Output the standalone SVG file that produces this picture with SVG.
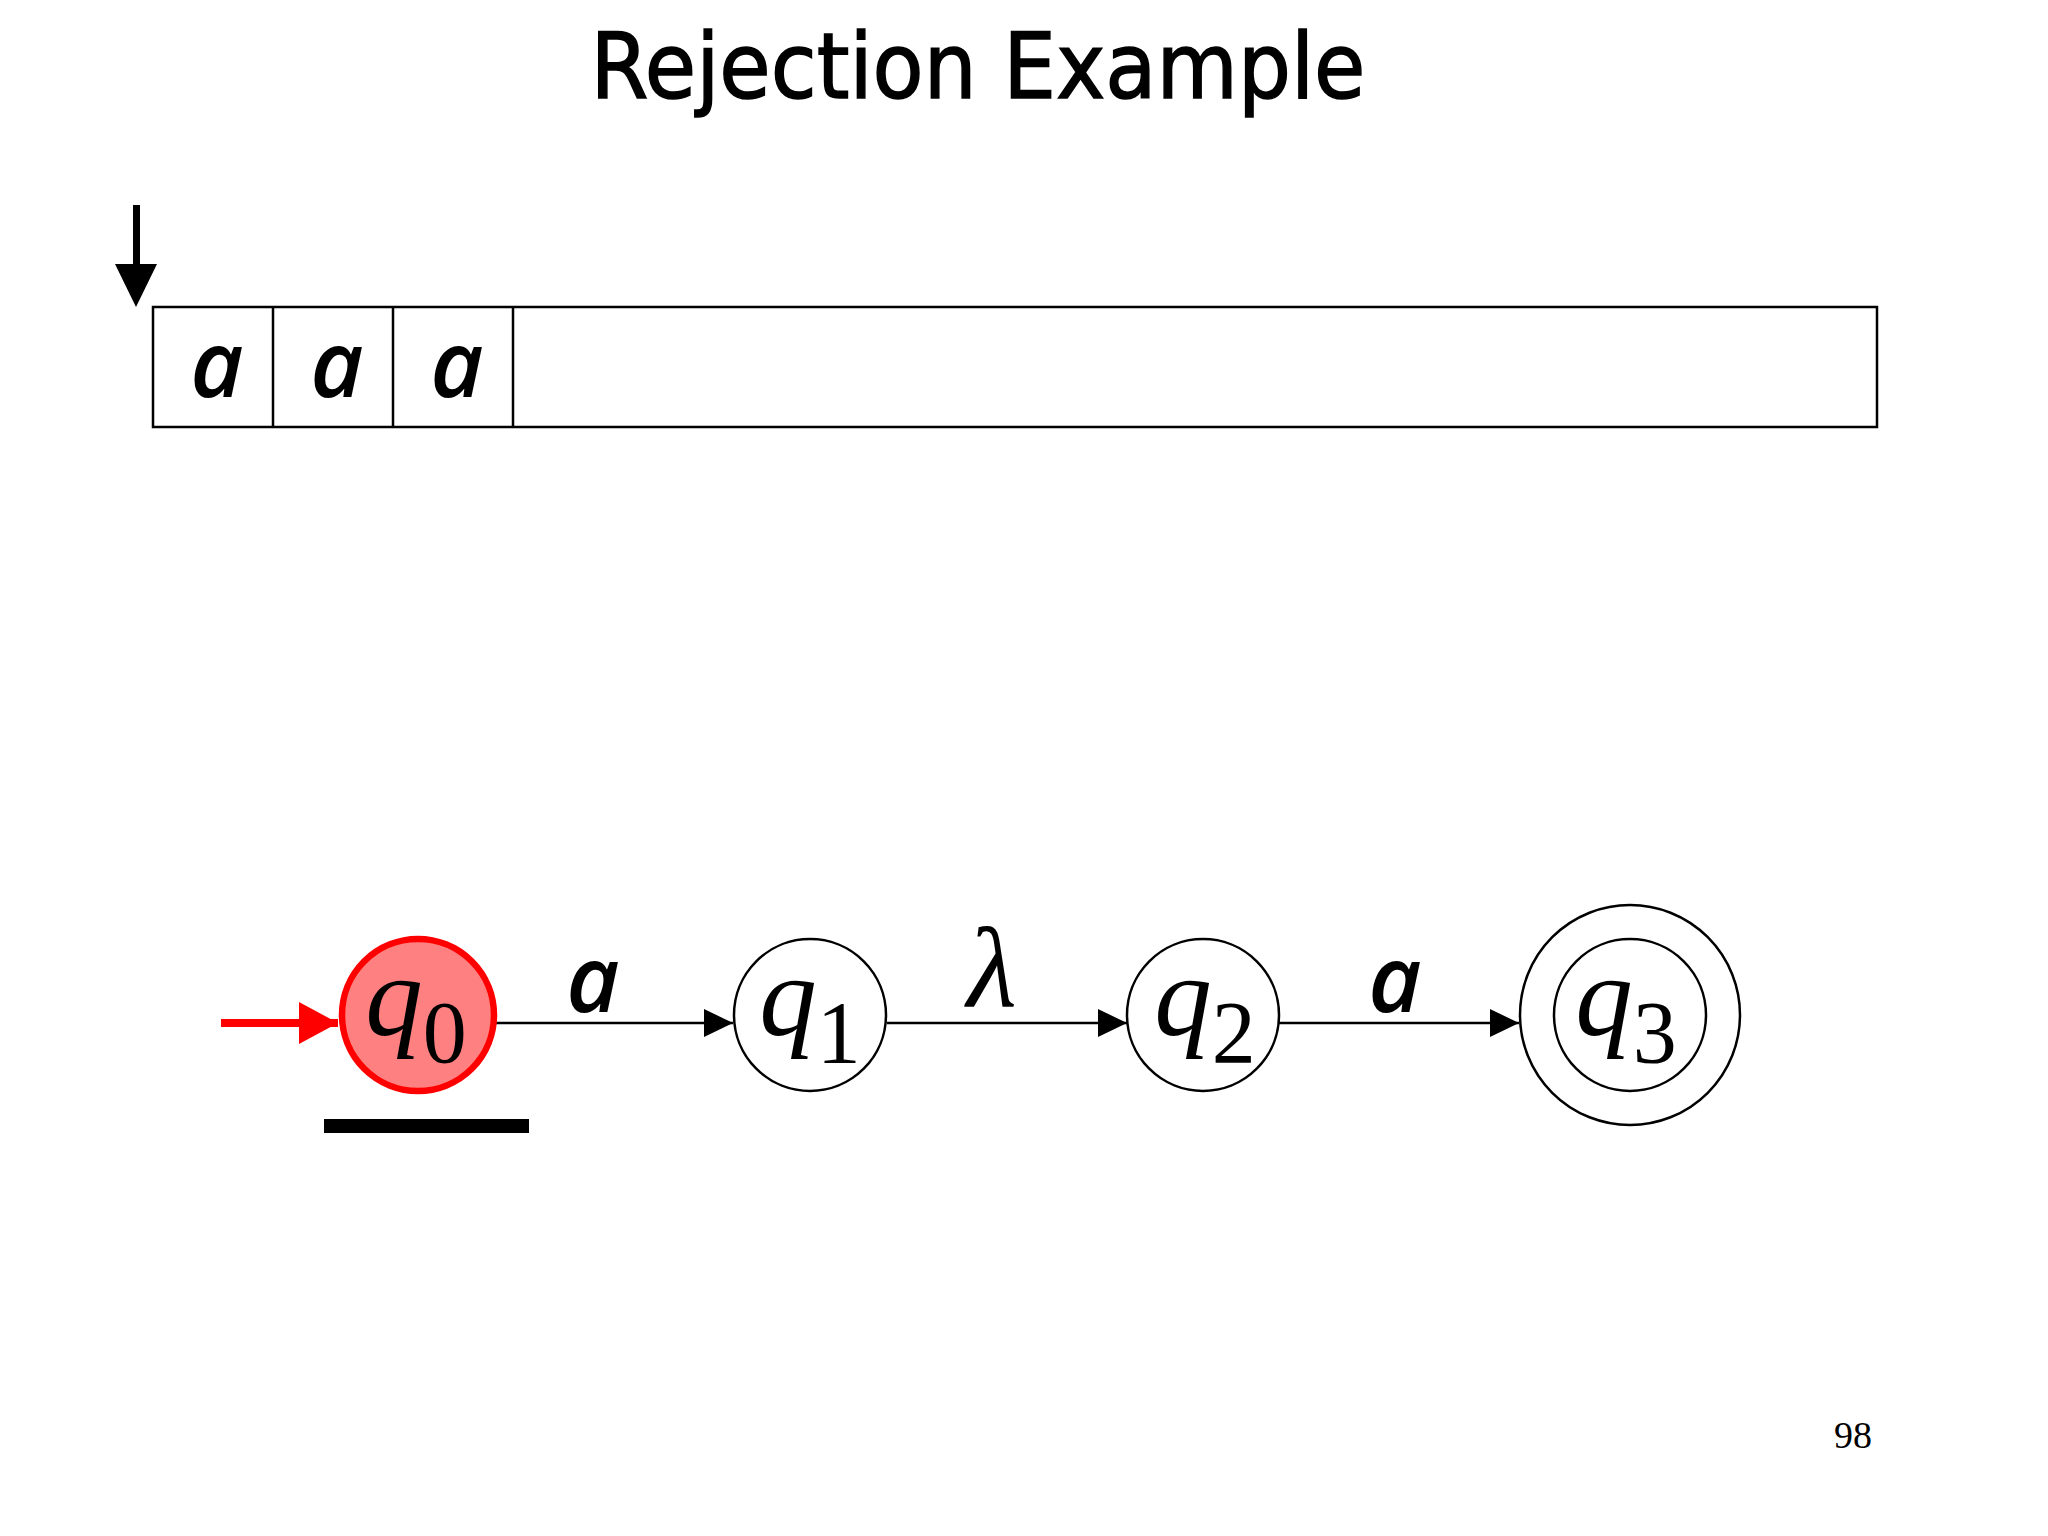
<svg xmlns="http://www.w3.org/2000/svg" width="2048" height="1536" viewBox="0 0 2048 1536">
  <defs>
    <marker id="arr" markerUnits="userSpaceOnUse" markerWidth="30" markerHeight="28" refX="29" refY="14" orient="auto">
      <path d="M0,0 L29,14 L0,28 z" fill="#000"/>
    </marker>
    <marker id="arrRed" markerUnits="userSpaceOnUse" markerWidth="40" markerHeight="42" refX="39" refY="21" orient="auto">
      <path d="M0,0 L39,21 L0,42 z" fill="#ff0000"/>
    </marker>
  </defs>
  <style>
    .title { font-family: "Comic Sans MS", "DejaVu Sans", sans-serif; font-size: 90px; fill: #000; stroke: #000; stroke-width: 1.5px; }
    .sym { font-family: "Open Sans", "Noto Sans", sans-serif; font-style: italic; font-weight: 600; font-size: 92px; fill: #000; }
    .st { font-family: "Liberation Serif", serif; font-style: italic; font-size: 115px; fill: #000; }
    .sub { font-style: normal; font-size: 88px; }
    .node { fill: #fff; stroke: #000; stroke-width: 2.5; }
    .edge { stroke: #000; stroke-width: 2.7; fill: none; marker-end: url(#arr); }
    .tape { fill: #fff; stroke: #000; stroke-width: 2.5; }
  </style>
  <rect width="2048" height="1536" fill="#fff"/>

  <text class="title" x="978" y="98" text-anchor="middle" textLength="775" lengthAdjust="spacingAndGlyphs">Rejection Example</text>

  <g id="head">
    <rect x="133" y="205" width="7" height="60" fill="#000"/>
    <path d="M115,264 L157,264 L136,307 z" fill="#000"/>
  </g>

  <g id="tape">
    <rect class="tape" x="153" y="307" width="1724" height="120"/>
    <line x1="273" y1="307" x2="273" y2="427" stroke="#000" stroke-width="2.5"/>
    <line x1="393" y1="307" x2="393" y2="427" stroke="#000" stroke-width="2.5"/>
    <line x1="513" y1="307" x2="513" y2="427" stroke="#000" stroke-width="2.5"/>
    <text class="sym" x="217" y="397" text-anchor="middle">a</text>
    <text class="sym" x="337" y="397" text-anchor="middle">a</text>
    <text class="sym" x="457" y="397" text-anchor="middle">a</text>
  </g>

  <g id="connectors">
    <line x1="221" y1="1023" x2="338" y2="1023" stroke="#ff0000" stroke-width="8" marker-end="url(#arrRed)"/>
    <line class="edge" x1="422" y1="1023" x2="733" y2="1023"/>
    <line class="edge" x1="887" y1="1023" x2="1127" y2="1023"/>
    <line class="edge" x1="1279" y1="1023" x2="1519" y2="1023"/>
    <text class="sym" x="593" y="1012" text-anchor="middle">a</text>
    <text class="st" x="992" y="1006" text-anchor="middle" font-size="120">λ</text>
    <text class="sym" x="1395" y="1012" text-anchor="middle">a</text>
  </g>

  <g id="q0">
    <circle cx="418" cy="1015" r="76" fill="#ff8080" stroke="#ff0000" stroke-width="6.5"/>
    <text class="st" x="416" y="1035" text-anchor="middle">q<tspan class="sub" dy="27">0</tspan></text>
  </g>
  <g id="q1">
    <circle class="node" cx="810" cy="1015" r="76"/>
    <text class="st" x="810" y="1035" text-anchor="middle">q<tspan class="sub" dy="27">1</tspan></text>
  </g>
  <g id="q2">
    <circle class="node" cx="1203" cy="1015" r="76"/>
    <text class="st" x="1205" y="1035" text-anchor="middle">q<tspan class="sub" dy="27">2</tspan></text>
  </g>
  <g id="q3">
    <circle class="node" cx="1630" cy="1015" r="110"/>
    <circle class="node" cx="1630" cy="1015" r="76"/>
    <text class="st" x="1626" y="1035" text-anchor="middle">q<tspan class="sub" dy="27">3</tspan></text>
  </g>

  <rect id="underline" x="324" y="1119" width="205" height="14" fill="#000"/>

  <text x="1853" y="1448" text-anchor="middle" font-family="Liberation Serif, serif" font-size="38" fill="#000">98</text>
</svg>
